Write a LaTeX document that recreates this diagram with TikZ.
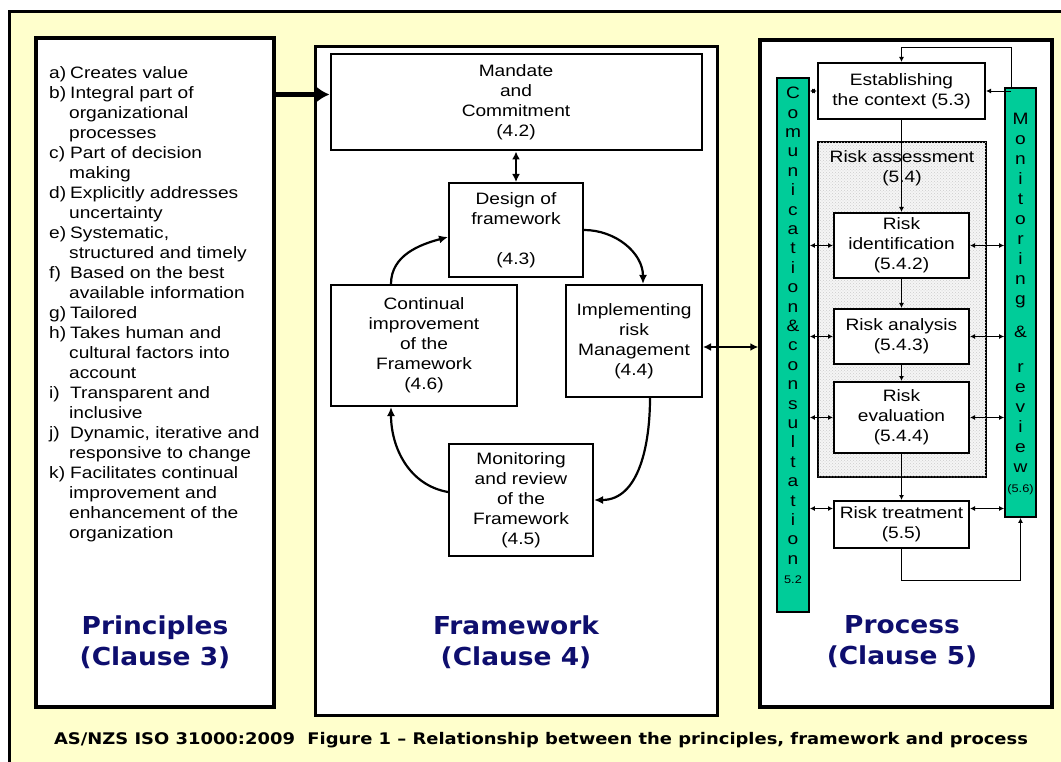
\documentclass[tikz,border=0pt]{standalone}
\usepackage{fontspec}
\setmainfont{Liberation Sans}[FakeStretch=1.16]
\newfontfamily\headfont{DejaVu Sans}[FakeStretch=1.07]
\newfontfamily\capfont{DejaVu Sans}[FakeStretch=1.12]
\usepackage{tikz}
\usetikzlibrary{arrows.meta,calc,patterns}

\definecolor{paleyellow}{RGB}{255,255,204}
\definecolor{bargreen}{RGB}{0,204,153}
\definecolor{clausenavy}{RGB}{14,14,110}

\newcommand{\itemlbl}[1]{\makebox[21pt][l]{#1}}
\newcommand{\itemcont}{\hspace*{20pt}}

\tikzset{
	>=Latex,                  % filled arrow tips
	panel/.style={draw, line width=3.5pt, fill=white, inner sep=0pt},
	box/.style={draw, line width=2pt, fill=white, align=center, inner sep=0pt,
		font=\fontsize{16.5}{20}\selectfont},
	plain/.style={align=center, inner sep=0pt, font=\fontsize{16.5}{20}\selectfont},
	bar/.style={draw, line width=1.8pt, fill=bargreen, inner sep=0pt},
	bartext/.style={align=center, inner sep=0pt, font=\fontsize{16.5}{19.4}\selectfont},
	clause/.style={align=center, inner sep=0pt, text=clausenavy,
		font=\headfont\bfseries\fontsize{24.7}{31}\selectfont},
	roundarrow/.style={line width=2.2pt, -{Latex[length=9pt,width=8pt]}},
	bigarrow/.style={line width=4.5pt, -{Latex[length=13pt,width=16pt]}},
	twoway/.style={line width=2pt, {Latex[length=8pt,width=8pt]}-{Latex[length=8pt,width=8pt]}},
	flow/.style={line width=0.9pt, -{Latex[length=5pt,width=5pt]}},
	link/.style={line width=0.9pt, {Latex[length=5pt,width=5pt]}-{Latex[length=5pt,width=5pt]}}
}

\begin{document}
\begin{tikzpicture}[x=1pt,y=1pt]
	% page
	\useasboundingbox (0,0) rectangle (1061,-762);
	\clip (0,0) rectangle (1061,-762);
	\fill[white] (0,0) rectangle (1061,-762);
	\draw[line width=3pt, fill=paleyellow] (9,-12) rectangle (1085,-790);
	
	% the three panels
	\node[panel, minimum width=238, minimum height=669] (principles) at (155,-372.5) {};
	\node[panel, line width=3pt, minimum width=402, minimum height=668] (framework) at (516,-381) {};
	\node[panel, minimum width=292, minimum height=667] (process) at (906,-373.5) {};
	
	% principles list
	\node[anchor=north west, align=left, inner sep=0pt,
	font=\fontsize{16.5}{20}\selectfont] (principlelist) at (49,-66) {%
		\itemlbl{a)}Creates value\\
		\itemlbl{b)}Integral part of\\
		\itemcont organizational\\
		\itemcont processes\\
		\itemlbl{c)}Part of decision\\
		\itemcont making\\
		\itemlbl{d)}Explicitly addresses\\
		\itemcont uncertainty\\
		\itemlbl{e)}Systematic,\\
		\itemcont structured and timely\\
		\itemlbl{f)}Based on the best\\
		\itemcont available information\\
		\itemlbl{g)}Tailored\\
		\itemlbl{h)}Takes human and\\
		\itemcont cultural factors into\\
		\itemcont account\\
		\itemlbl{i)}Transparent and\\
		\itemcont inclusive\\
		\itemlbl{j)}Dynamic, iterative and\\
		\itemcont responsive to change\\
		\itemlbl{k)}Facilitates continual\\
		\itemcont improvement and\\
		\itemcont enhancement of the\\
		\itemcont organization};
	
	% framework boxes
	\node[box, minimum width=371, minimum height=96] (mandate) at (516,-102.5) {Mandate\\and\\Commitment\\(4.2)};
	\node[box, minimum width=134, minimum height=94] (design) at (516,-230) {Design of\\framework\\[20pt](4.3)};
	\node[box, minimum width=136, minimum height=112] (implement) at (634,-341) {Implementing\\risk\\Management\\(4.4)};
	\node[box, minimum width=144, minimum height=112] (monitor) at (521,-500) {Monitoring\\and review\\of the\\Framework\\(4.5)};
	\node[box, minimum width=186, minimum height=121] (improve) at (424,-345.5) {Continual\\improvement\\of the\\Framework\\(4.6)};
	
	\coordinate (inlet) at ([yshift=8pt]mandate.west);
	\draw[bigarrow] (principles.east |- inlet) -- (inlet);
	\draw[twoway] (mandate.south) -- (design.north);
	
	% the framework cycle
	\draw[roundarrow] (design.east) to[out=0,in=90] ([xshift=9pt]implement.north);
	\draw[roundarrow] ([xshift=16pt]implement.south) to[out=-90,in=0] (monitor.east);
	\draw[roundarrow] ([yshift=8pt]monitor.west) to[out=170,in=-90] ([xshift=-33pt]improve.south);
	\draw[roundarrow] ([xshift=-33pt]improve.north) to[out=90,in=195] ([yshift=-7pt]design.west);
	
	% process side
	\node[bar, minimum width=32, minimum height=534] (commbar) at (793,-345) {};
	\node[bar, minimum width=31, minimum height=429] (monbar) at (1020.5,-302.5) {};
	\node[box, minimum width=167, minimum height=56] (establish) at (901.5,-91) {Establishing\\the context (5.3)};
	\node[draw, line width=2pt, fill=gray!8, inner sep=0pt, minimum width=168, minimum height=335,
	postaction={pattern=crosshatch dots, pattern color=gray!40}] (assess) at (902,-309.5) {};
	\node[plain] (assesslabel) at (902,-168) {Risk assessment\\(5.4)};
	\node[box, minimum width=135, minimum height=65] (identify) at (901.5,-245.5) {Risk\\identification\\(5.4.2)};
	\node[box, minimum width=135, minimum height=55] (analyse) at (901.5,-336.5) {Risk analysis\\(5.4.3)};
	\node[box, minimum width=135, minimum height=71] (evaluate) at (901.5,-417.5) {Risk\\evaluation\\(5.4.4)};
	\node[box, minimum width=135, minimum height=47] (treat) at (901.5,-524.5) {Risk treatment\\(5.5)};
	
	% bar captions, one letter per line
	\node[bartext, anchor=north] (commtext) at (793,-87) {C\\o\\m\\u\\n\\i\\c\\a\\t\\i\\o\\n\\\&\\c\\o\\n\\s\\u\\l\\t\\a\\t\\i\\o\\n\\{\fontsize{11}{12}\selectfont 5.2}};
	\node[bartext, anchor=north, font=\fontsize{16.5}{20}\selectfont] (montext) at (1020.5,-113) {M\\o\\n\\i\\t\\o\\r\\i\\n\\g\\[13pt]\&\\[15pt]r\\e\\v\\i\\e\\w\\{\fontsize{11}{12}\selectfont (5.6)}};
	
	% main flow down the process
	\draw[flow] (establish.south) -- (identify.north);
	\draw[flow] (identify.south) -- (analyse.north);
	\draw[flow] (analyse.south) -- (evaluate.north);
	\draw[flow] (evaluate.south) -- (treat.north);
	
	% communication and monitoring links
	\draw[link] (commbar.east |- establish.west) -- (establish.west);
	\draw[link] (commbar.east |- identify.west) -- (identify.west);
	\draw[link] (commbar.east |- analyse.west) -- (analyse.west);
	\draw[link] (commbar.east |- evaluate.west) -- (evaluate.west);
	\draw[link] (commbar.east |- treat.west) ++(0,16) -- ([yshift=16pt]treat.west);
	\draw[link] (identify.east) -- (monbar.west |- identify.east);
	\draw[link] (analyse.east) -- (monbar.west |- analyse.east);
	\draw[link] (evaluate.east) -- (monbar.west |- evaluate.east);
	\draw[link] ([yshift=16pt]treat.east) -- ([yshift=16pt]monbar.west |- treat.east);
	
	% feedback loops
	\coordinate (fbtop) at (1011,-47);
	\draw[flow] (monbar.north -| fbtop) -- (fbtop) -| (establish.north);
	\draw[flow] (fbtop |- establish.east) -- (establish.east);
	\coordinate (loopcorner) at (monbar.south |- 0,-580);
	\draw[flow] (treat.south) |- (loopcorner) -- (monbar.south);
	
	% framework to process
	\draw[twoway, line width=2.2pt] ([yshift=-6pt]implement.east) -- ([yshift=-6pt]implement.east -| process.west);
	
	% clause titles
	\node[clause] (principlestitle) at (155,-642) {Principles\\(Clause 3)};
	\node[clause] (frameworktitle) at (516,-642) {Framework\\(Clause 4)};
	\node[clause] (processtitle) at (902,-642) {Process\\(Clause 5)};
	
	% caption
	\node[inner sep=0pt, font=\capfont\bfseries\fontsize{16}{19}\selectfont] (caption) at (541,-740)
	{AS/NZS ISO 31000:2009\ \ Figure 1 – Relationship between the principles, framework and process};
\end{tikzpicture}
\end{document}
